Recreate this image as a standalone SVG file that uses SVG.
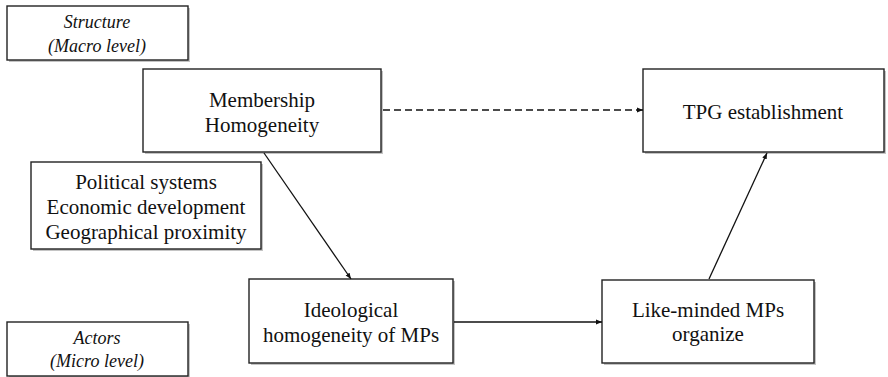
<svg xmlns="http://www.w3.org/2000/svg" width="888" height="377" viewBox="0 0 888 377">
<defs>
<marker id="ah" viewBox="0 0 10 10" refX="10" refY="5" markerWidth="6" markerHeight="6" orient="auto" markerUnits="userSpaceOnUse"><path d="M0,1 L10,5 L0,9 z" fill="#111"/></marker>
</defs>
<rect width="888" height="377" fill="#fff"/>
<g fill="#c4c4c4" stroke="none">
<rect x="9" y="8" width="181" height="54"/>
<rect x="145" y="71" width="238" height="83"/>
<rect x="645" y="71" width="241" height="83"/>
<rect x="33" y="164" width="230" height="87"/>
<rect x="251" y="281" width="204" height="84"/>
<rect x="9" y="324" width="181" height="54"/>
<rect x="604" y="282" width="212" height="83"/>
</g>
<g id="structure"><rect x="7" y="6" width="181" height="54" fill="#fff" stroke="#222" stroke-width="1.4"/><text font-family="Liberation Serif, Tinos, Times New Roman, serif" font-size="18" font-style="italic" fill="#111" text-anchor="middle" x="97" y="28">Structure</text><text font-family="Liberation Serif, Tinos, Times New Roman, serif" font-size="18" font-style="italic" fill="#111" text-anchor="middle" x="97" y="52">(Macro level)</text></g>
<g id="membership"><rect x="143" y="69" width="238" height="83" fill="#fff" stroke="#222" stroke-width="1.4"/><text font-family="Liberation Serif, Tinos, Times New Roman, serif" font-size="21" fill="#111" text-anchor="middle" x="262" y="107">Membership</text><text font-family="Liberation Serif, Tinos, Times New Roman, serif" font-size="21" fill="#111" text-anchor="middle" x="262" y="132">Homogeneity</text></g>
<g id="tpg"><rect x="643" y="69" width="241" height="83" fill="#fff" stroke="#222" stroke-width="1.4"/><text font-family="Liberation Serif, Tinos, Times New Roman, serif" font-size="21" fill="#111" text-anchor="middle" x="763" y="119">TPG establishment</text></g>
<g id="factors"><rect x="31" y="162" width="230" height="87" fill="#fff" stroke="#222" stroke-width="1.4"/><text font-family="Liberation Serif, Tinos, Times New Roman, serif" font-size="21" fill="#111" text-anchor="middle" x="146" y="189">Political systems</text><text font-family="Liberation Serif, Tinos, Times New Roman, serif" font-size="21" fill="#111" text-anchor="middle" x="146" y="214">Economic development</text><text font-family="Liberation Serif, Tinos, Times New Roman, serif" font-size="21" fill="#111" text-anchor="middle" x="146" y="239">Geographical proximity</text></g>
<g id="ideological"><rect x="249" y="279" width="204" height="84" fill="#fff" stroke="#222" stroke-width="1.4"/><text font-family="Liberation Serif, Tinos, Times New Roman, serif" font-size="21" fill="#111" text-anchor="middle" x="351" y="317">Ideological</text><text font-family="Liberation Serif, Tinos, Times New Roman, serif" font-size="21" fill="#111" text-anchor="middle" x="351" y="342">homogeneity of MPs</text></g>
<g id="actors"><rect x="7" y="322" width="181" height="54" fill="#fff" stroke="#222" stroke-width="1.4"/><text font-family="Liberation Serif, Tinos, Times New Roman, serif" font-size="18" font-style="italic" fill="#111" text-anchor="middle" x="97" y="344">Actors</text><text font-family="Liberation Serif, Tinos, Times New Roman, serif" font-size="18" font-style="italic" fill="#111" text-anchor="middle" x="97" y="367">(Micro level)</text></g>
<g id="likeminded"><rect x="602" y="280" width="212" height="83" fill="#fff" stroke="#222" stroke-width="1.4"/><text font-family="Liberation Serif, Tinos, Times New Roman, serif" font-size="21" fill="#111" text-anchor="middle" x="708" y="317">Like-minded MPs</text><text font-family="Liberation Serif, Tinos, Times New Roman, serif" font-size="21" fill="#111" text-anchor="middle" x="708" y="341">organize</text></g>
<g id="connectors" stroke="#111" stroke-width="1.3" fill="none" marker-end="url(#ah)">
<line x1="383" y1="110" x2="643" y2="110" stroke-dasharray="7,4"/>
<line x1="264" y1="153" x2="351" y2="279"/>
<line x1="454" y1="322" x2="602" y2="322"/>
<line x1="709" y1="279" x2="767" y2="153"/>
</g>
</svg>
